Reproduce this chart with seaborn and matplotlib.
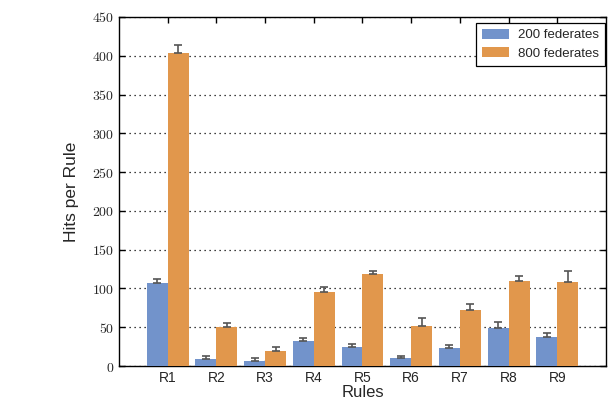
import matplotlib
matplotlib.use("Agg")
import matplotlib.pyplot as plt
import seaborn as sns
import pandas as pd
import numpy as np

rules = ["R1", "R2", "R3", "R4", "R5", "R6", "R7", "R8", "R9"]
series_names = ["200 federates", "800 federates"]
hits_200 = [107, 9, 6.5, 32, 24.5, 10.5, 23, 49, 37.5]
err_200 = [5.5, 3.5, 3.5, 4, 4, 2.5, 4.5, 7.5, 4.5]
hits_800 = [403.5, 50, 19.5, 95.5, 118.5, 51.5, 72, 109.5, 108.5]
err_800 = [11, 6, 4.5, 7, 4.5, 10, 8, 6.5, 13.5]
y_ticks = [0, 50, 100, 150, 200, 250, 300, 350, 400, 450]
colors = ["#7293CB", "#E1974C"]

sns.set_style("ticks")
plt.rcParams["font.family"] = ["Liberation Sans", "DejaVu Sans"]
plt.rcParams["mathtext.fontset"] = "cm"

df = pd.DataFrame({
    "Rule": rules * 2,
    "Hits": hits_200 + hits_800,
    "Series": [series_names[0]] * len(rules) + [series_names[1]] * len(rules),
})

fig = plt.figure(figsize=(6.09, 4.0), dpi=100)
ax = fig.add_axes([0.1954, 0.085, 0.7996, 0.8725])

sns.barplot(data=df, x="Rule", y="Hits", hue="Series", palette=colors,
            width=0.86, errorbar=None, ax=ax, saturation=1, zorder=3,
            linewidth=0, edgecolor="none")

xs, ys, es = [], [], []
for si, (vals, errs) in enumerate([(hits_200, err_200), (hits_800, err_800)]):
    cont = ax.containers[si]
    for p, v, e in zip(cont, vals, errs):
        xs.append(p.get_x() + p.get_width() / 2)
        ys.append(v)
        es.append(e)
ax.errorbar(xs, ys, yerr=[np.zeros(len(es)), es], fmt="none", ecolor="#555555",
            elinewidth=1.2, capsize=2.6, capthick=1.2, zorder=4)

ax.set_xlim(-1, 9)
ax.set_ylim(0, 450)
ax.set_yticks(y_ticks)
ax.set_yticklabels([f"${t}$" for t in y_ticks], fontsize=10)
ax.tick_params(axis="x", labelsize=10)
ax.tick_params(direction="in", top=True, right=True, length=4, width=1, color="black")
ax.yaxis.grid(True, linestyle=(0, (1, 3)), color="black", linewidth=0.9, zorder=0)
ax.set_axisbelow(True)
for s in ax.spines.values():
    s.set_visible(True)
    s.set_color("black")
    s.set_linewidth(1.0)

ax.set_xlabel("Rules", fontsize=12, labelpad=0)
ax.set_ylabel("Hits per Rule", fontsize=12.5, labelpad=9)

leg = ax.legend(loc="upper right", bbox_to_anchor=(0.998, 0.983), borderaxespad=0,
                fontsize=9.5, fancybox=False, framealpha=1,
                edgecolor="black", handlelength=2.05, handleheight=0.75,
                handletextpad=0.7, labelspacing=0.45, borderpad=0.45)
leg.get_frame().set_linewidth(0.9)
leg.set_title(None)

fig.savefig("out.png", dpi=100)
